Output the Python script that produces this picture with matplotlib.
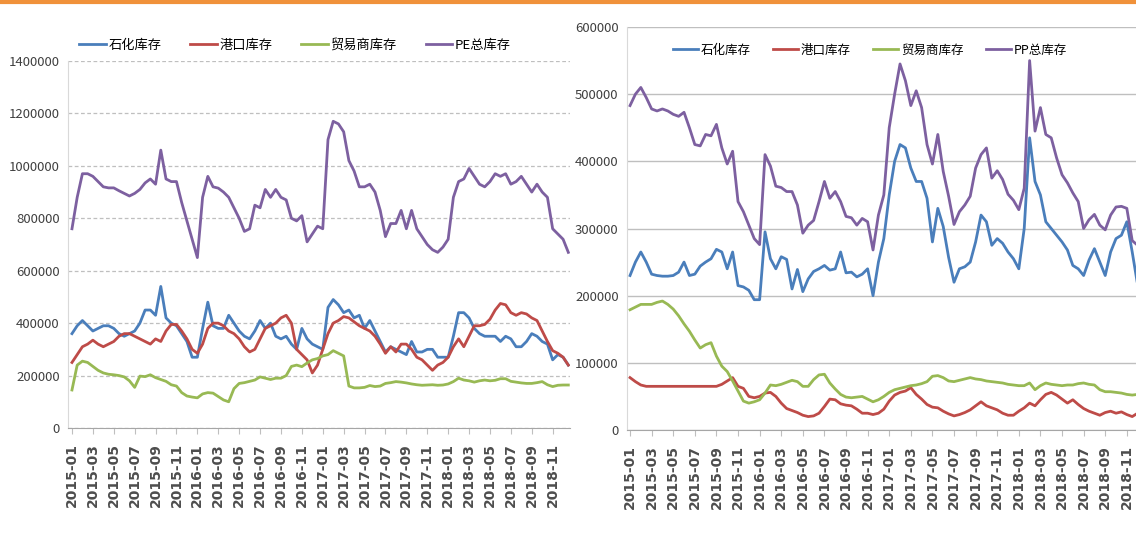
import numpy as np
import matplotlib.pyplot as plt
from matplotlib.lines import Line2D
from matplotlib.ticker import FuncFormatter

plt.rcParams['font.family'] = ['Noto Sans CJK SC', 'DejaVu Sans']

# ============================================================
# DATA  (semi-monthly points, 2015-01 .. 2018-12, unit: 10k tonnes)
# ============================================================
series_names_pe = ["石化库存", "港口库存", "贸易商库存", "PE总库存"]
series_names_pp = ["石化库存", "港口库存", "贸易商库存", "PP总库存"]

pe_petro = [36, 39, 41, 39, 37, 38, 39, 39, 38, 36, 35, 36, 37, 40, 45, 45,
            43, 54, 42, 40, 39, 36, 33, 27, 27, 38, 48, 39, 38, 38, 43, 40,
            37, 35, 34, 37, 41, 38, 40, 35, 34, 35, 32, 30, 38, 34, 32, 31,
            30, 46, 49, 47, 44, 45, 42, 43, 38, 41, 37, 33, 29, 31, 30, 29,
            28, 33, 29, 29, 30, 30, 27, 27, 27, 35, 44, 44, 42, 38, 36, 35,
            35, 35, 33, 35, 34, 31, 31, 33, 36, 35, 33, 32, 26, 28, 27, 24]
pe_port = [25, 28, 31, 32, 33.5, 32, 31, 32, 33, 35, 36, 36, 35, 34, 33, 32,
           34, 33, 37, 39.5, 39.5, 37, 34, 30, 28.5, 32, 38, 40, 40, 39, 37, 36,
           34, 31, 29, 30, 34, 38, 39, 40, 42, 43, 40, 30, 28, 26, 21, 24,
           30, 36, 40, 41, 42.5, 42, 40.5, 39, 38, 37, 35, 32, 28.5, 31, 29, 32,
           32, 30, 27, 26, 24, 22, 24, 25, 27, 31, 34, 31, 35, 39, 39, 39.5,
           41.5, 45, 47.5, 47, 44, 43, 44, 43.5, 42, 41, 37, 33, 29.5, 28.5, 27, 24]
pe_trader = [14.5, 24, 25.5, 25, 23.5, 22, 21, 20.5, 20.3, 20, 19.5, 18, 15.5, 19.8, 19.6, 20.3,
             19.2, 18.5, 17.8, 16.5, 16, 13.5, 12.2, 11.8, 11.5, 13, 13.5, 13.3, 12, 10.7, 10, 15,
             17, 17.3, 17.8, 18.3, 19.5, 19, 18.5, 19, 19, 20, 23.5, 24, 23.4, 24.8, 26, 26.5,
             27.5, 28, 29.5, 28.5, 27.5, 16, 15.3, 15.3, 15.5, 16.2, 15.8, 16, 17, 17.3, 17.7, 17.5,
             17.2, 16.8, 16.5, 16.3, 16.4, 16.5, 16.3, 16.4, 16.8, 17.7, 19, 18.3, 18, 17.5, 18, 18.3,
             18, 18.2, 18.8, 18.8, 17.8, 17.5, 17.2, 17, 17, 17.3, 17.7, 16.5, 15.8, 16.3, 16.4, 16.4]
pe_total = [76, 88, 97, 97, 96, 94, 92, 91.6, 91.6, 90.5, 89.5, 88.5, 89.5, 91, 93.5, 95,
            93, 106, 95, 94, 94, 86, 79, 72, 65, 88, 96, 92, 91.5, 90, 88, 84,
            80, 75, 76, 85, 84, 91, 88, 91, 88, 87, 80, 79, 81, 71, 74, 77,
            76, 110, 117, 116, 113, 102, 98, 92, 92, 93, 90, 83, 73, 78, 78, 83,
            76, 83, 76, 73, 70, 68, 67, 69, 72, 88, 94, 95, 99, 96, 93, 92,
            94, 97, 96, 97, 93, 94, 96, 93, 90, 93, 90, 88, 76, 74, 72, 67]

pp_petro = [23, 25, 26.5, 25, 23.2, 23, 22.9, 22.9, 23, 23.5, 25, 23, 23.2, 24.4, 25, 25.5,
            26.9, 26.5, 24, 26.5, 21.5, 21.3, 20.8, 19.4, 19.4, 29.5, 25.5, 24, 25.8, 25.4, 21, 23.9,
            20.6, 22.5, 23.6, 24, 24.5, 23.8, 24, 26.5, 23.4, 23.5, 22.8, 23.2, 24, 20, 25, 28.5,
            35, 40, 42.5, 42, 39, 37, 37, 34.5, 28, 33, 30.3, 25.7, 22, 24, 24.3, 25,
            28, 32, 31, 27.5, 28.5, 27.8, 26.5, 25.5, 24, 30, 43.5, 37, 35, 31, 30, 29,
            28, 26.8, 24.5, 24, 23, 25.3, 27, 25, 23, 26.5, 28.5, 29, 31, 26.5, 21.6, 21]
pp_port = [7.8, 7.2, 6.7, 6.5, 6.5, 6.5, 6.5, 6.5, 6.5, 6.5, 6.5, 6.5, 6.5, 6.5, 6.5, 6.5,
           6.5, 6.8, 7.3, 7.8, 6.5, 6.2, 5, 4.8, 5, 5.5, 5.6, 5, 4, 3.2, 2.9, 2.6,
           2.2, 2, 2.1, 2.5, 3.5, 4.6, 4.5, 3.9, 3.7, 3.6, 3.1, 2.5, 2.5, 2.3, 2.5, 3.1,
           4.3, 5.2, 5.6, 5.8, 6.3, 5.3, 4.6, 3.8, 3.4, 3.3, 2.8, 2.4, 2.1, 2.3, 2.6, 3,
           3.6, 4.2, 3.6, 3.3, 3, 2.5, 2.2, 2.2, 2.8, 3.3, 4, 3.6, 4.5, 5.3, 5.6, 5.2,
           4.6, 4, 4.5, 3.8, 3.2, 2.8, 2.5, 2.2, 2.6, 2.8, 2.5, 2.7, 2.3, 2, 2.5, 2.4]
pp_trader = [17.9, 18.3, 18.7, 18.7, 18.7, 19, 19.2, 18.7, 18, 17, 15.8, 14.7, 13.4, 12.2, 12.7, 13,
             11, 9.5, 8.7, 7.3, 5.8, 4.3, 4, 4.2, 4.5, 5.5, 6.7, 6.6, 6.8, 7.1, 7.4, 7.2,
             6.5, 6.5, 7.5, 8.2, 8.3, 7, 6.1, 5.3, 4.9, 4.8, 4.9, 5, 4.6, 4.2, 4.5, 5,
             5.6, 6, 6.2, 6.4, 6.6, 6.7, 6.9, 7.2, 8, 8.1, 7.8, 7.3, 7.2, 7.4, 7.6, 7.8,
             7.6, 7.5, 7.3, 7.2, 7.1, 7, 6.8, 6.7, 6.6, 6.6, 7, 6, 6.6, 7, 6.8, 6.7,
             6.6, 6.7, 6.7, 6.9, 7, 6.8, 6.7, 6, 5.7, 5.7, 5.6, 5.5, 5.3, 5.2, 5.3, 5.3]
pp_total = [48.3, 50, 51, 49.5, 47.8, 47.5, 47.8, 47.5, 47, 46.7, 47.3, 45, 42.5, 42.3, 44, 43.8,
            45.5, 42, 39.6, 41.5, 34, 32.5, 30.5, 28.5, 27.6, 41, 39.3, 36.3, 36.1, 35.5, 35.5, 33.5,
            29.3, 30.5, 31.2, 34, 37, 34.5, 35.5, 34, 31.8, 31.6, 30.5, 31.5, 31, 26.8, 32, 35,
            45, 50, 54.5, 52, 48.3, 50.5, 48, 42.5, 39.6, 44, 38.5, 34.8, 30.6, 32.5, 33.5, 34.8,
            39, 41, 42, 37.5, 38.6, 37.3, 35.1, 34.2, 32.8, 36, 55, 44.5, 48, 44, 43.5, 40.5,
            38, 36.8, 35.3, 34, 30, 31.3, 32.1, 30.5, 29.8, 32, 33.2, 33.3, 33, 28.2, 27.5, 25]

tick_labels = ["2015-01", "2015-03", "2015-05", "2015-07", "2015-09", "2015-11",
               "2016-01", "2016-03", "2016-05", "2016-07", "2016-09", "2016-11",
               "2017-01", "2017-03", "2017-05", "2017-07", "2017-09", "2017-11",
               "2018-01", "2018-03", "2018-05", "2018-07", "2018-09", "2018-11"]

colors = ["#4A7EBB", "#BE4B48", "#98B954", "#7D60A0"]

# x in months since 2015-01 (two points per month)
x = np.arange(len(pe_total)) / 2
tick_pos = np.arange(len(tick_labels)) * 2

W, H = 1136, 538
fig = plt.figure(figsize=(W / 100, H / 100), dpi=100)

# orange rule along the top
fig.add_artist(Line2D([0, 1], [1 - 1.5 / H] * 2, transform=fig.transFigure,
                      color="#F0913A", lw=3))

ax1 = fig.add_axes([68 / W, 110 / H, (570 - 68) / W, (428 - 61) / H])
ax2 = fig.add_axes([627 / W, 108 / H, (1136 - 627) / W, (430 - 27) / H])

pe = [pe_petro, pe_port, pe_trader, pe_total]
pp = [pp_petro, pp_port, pp_trader, pp_total]

for vals, name, c in zip(pe, series_names_pe, colors):
    ax1.plot(x, np.array(vals) * 10000, color=c, lw=2, label=name)
for vals, name, c in zip(pp, series_names_pp, colors):
    ax2.plot(x, np.array(vals) * 10000, color=c, lw=2, label=name)

ax1.set_xlim(-0.38, 47.66)
ax1.set_ylim(0, 1400000)
ax1.set_yticks(np.arange(0, 1400001, 200000))
ax2.set_xlim(-0.28, 46.85)
ax2.set_ylim(0, 600000)
ax2.set_yticks(np.arange(0, 600001, 100000))

for ax in (ax1, ax2):
    ax.yaxis.set_major_formatter(FuncFormatter(lambda v, p: f"{int(v)}"))
    ax.set_xticks(tick_pos)
    ax.set_xticklabels(tick_labels, rotation=90, fontweight="bold",
                       fontsize=10, color="#4D4D4D", family="DejaVu Sans")
    ax.tick_params(axis="x", length=4, color="#BFBFBF", pad=7)
    ax.tick_params(axis="y", length=0, labelsize=9.5, labelcolor="#404040", pad=6)
    for s in ("top", "right"):
        ax.spines[s].set_visible(False)
    ax.spines["left"].set_color("#D9D9D9")
    ax.spines["bottom"].set_color("#A6A6A6")
    ax.set_axisbelow(True)

ax1.yaxis.grid(True, ls=(0, (3, 2)), color="#BFBFBF", lw=0.9)
ax2.yaxis.grid(True, ls="-", color="#BFBFBF", lw=1.0)

fig.legend(*ax1.get_legend_handles_labels(), loc="center", ncol=4,
           bbox_to_anchor=(295 / W, 1 - 45 / H), frameon=False, fontsize=9.5,
           handlelength=2.0, handletextpad=0.2, columnspacing=2.2)
fig.legend(*ax2.get_legend_handles_labels(), loc="center", ncol=4,
           bbox_to_anchor=(870 / W, 1 - 50 / H), frameon=False, fontsize=9,
           handlelength=2.0, handletextpad=0.2, columnspacing=1.8)

plt.savefig("out.png", dpi=100)
